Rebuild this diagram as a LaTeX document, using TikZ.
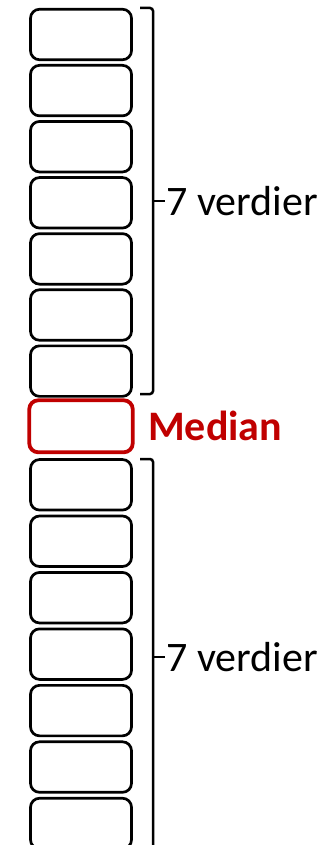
\documentclass[tikz,border=0pt]{standalone}
\usepackage{fontspec}
\setmainfont{Carlito}
\definecolor{medred}{RGB}{192,0,0}
\begin{document}
\begin{tikzpicture}[x=1pt,y=-1pt,
  cell/.style={draw=black,line width=2.7pt,rounded corners=9pt,minimum width=101pt,minimum height=50.5pt,inner sep=0pt},
  medcell/.style={cell,draw=medred,line width=3.8pt,minimum width=103.5pt,minimum height=52pt},
  bracket/.style={draw=black,line width=2.5pt,rounded corners=3pt},
  lbl/.style={anchor=west,font=\fontsize{42}{46}\selectfont,inner sep=0pt}]
  \useasboundingbox (0,0) rectangle (325,845);
  \clip (0,0) rectangle (325,845);
  % upper seven cells
  \foreach \k in {1,...,7}{
    \pgfmathsetmacro{\yy}{34.5+56.1*(\k-1)}
    \node[cell] (b\k) at (81,\yy) {};
  }
  % median cell
  \node[medcell] (b8) at (81,426.3) {};
  % lower seven cells
  \foreach \k in {9,...,15}{
    \pgfmathsetmacro{\yy}{484.8+56.45*(\k-9)}
    \node[cell] (b\k) at (81,\yy) {};
  }
  % upper bracket
  \coordinate (ua) at (140,8);
  \coordinate (ub) at (153,394);
  \coordinate (um) at (153,201);
  \draw[bracket] (ua) -| (ub) -- (ub -| ua);
  \draw[line width=2.5pt] (um) -- ++(12,0) node[lbl,right] (t1) {7 verdier};
  % lower bracket
  \coordinate (la) at (140,459);
  \coordinate (lb) at (153,856);
  \coordinate (lm) at (153,657);
  \draw[bracket] (la) -| (lb) -- (lb -| la);
  \draw[line width=2.5pt] (lm) -- ++(12,0) node[lbl,right] (t2) {7 verdier};
  % median label
  \node[lbl,text=medred,font=\fontsize{42}{46}\selectfont\bfseries] (med) at (148,426) {Median};
\end{tikzpicture}
\end{document}
